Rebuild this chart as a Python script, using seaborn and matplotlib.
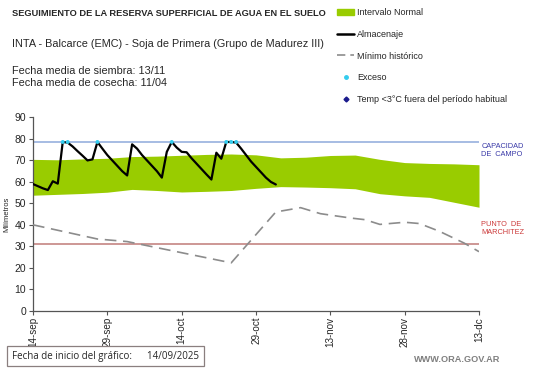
import matplotlib
matplotlib.use("Agg")
import matplotlib.pyplot as plt
import matplotlib.patches as mpatches
from matplotlib.lines import Line2D
import numpy as np
import pandas as pd
import seaborn as sns

# ---- data ----
start_date = "2025-09-14"

almacenaje = [
    59.0, 58.0, 57.0, 56.2, 60.3, 59.2, 78.6, 78.3, 76.5, 74.3,
    72.2, 70.0, 70.5, 78.6, 75.5, 72.5, 70.0, 67.5, 65.0, 63.0,
    77.5, 75.5, 72.5, 70.0, 67.5, 65.0, 62.0, 74.0, 78.6, 76.0,
    74.0, 73.8, 71.0, 68.5, 66.0, 63.5, 61.1, 73.6, 70.8, 78.6,
    78.6, 78.3, 75.5, 72.5, 69.5, 67.0, 64.5, 62.0, 60.0, 58.8,
]

exceso_days = [6, 7, 13, 28, 39, 40, 41]
exceso_vals = [78.6, 78.6, 78.6, 78.6, 78.6, 78.6, 78.6]

band_days = [0, 5, 10, 15, 20, 25, 30, 35, 40, 45, 50, 55, 60, 65, 70, 75, 80, 85, 90]
band_upper = [70.5, 70.3, 70.7, 71.0, 71.8, 72.0, 72.4, 72.8, 73.0, 72.6,
              71.2, 71.5, 72.3, 72.5, 70.5, 69.0, 68.6, 68.4, 68.0]
band_lower = [53.8, 54.2, 54.6, 55.2, 56.5, 56.0, 55.3, 55.6, 56.0, 57.0,
              57.8, 57.6, 57.3, 56.8, 54.5, 53.5, 52.8, 50.5, 48.2]

minimo_days = [0, 13, 19, 40, 49, 54, 58, 64, 67, 70, 75, 78, 82, 87, 90]
minimo_vals = [40.0, 33.4, 32.2, 22.3, 46.0, 48.0, 45.2, 43.2, 42.4, 40.2,
               41.2, 40.6, 37.0, 31.5, 27.5]

capacidad_campo = 78.5
punto_marchitez = 31.3

tick_days = [0, 15, 30, 45, 60, 75, 90]
tick_labels = ["14-sep", "29-sep", "14-oct", "29-oct", "13-nov", "28-nov", "13-dc"]

# ---- build frames ----
t0 = pd.Timestamp(start_date)
alm_df = pd.DataFrame({
    "fecha": t0 + pd.to_timedelta(np.arange(len(almacenaje)), unit="D"),
    "mm": almacenaje,
})
min_df = pd.DataFrame({"fecha": t0 + pd.to_timedelta(minimo_days, unit="D"), "mm": minimo_vals})
exc_df = pd.DataFrame({"fecha": t0 + pd.to_timedelta(exceso_days, unit="D"), "mm": exceso_vals})
band_dates = t0 + pd.to_timedelta(band_days, unit="D")

sns.set_style("white")
plt.rcParams["font.family"] = ["Liberation Sans", "DejaVu Sans"]

fig = plt.figure(figsize=(5.41, 3.68), dpi=100)
ax = fig.add_axes([33 / 541, 1 - 310.7 / 368, (479 - 33) / 541, (310.7 - 117.5) / 368])

green = "#99cc00"
ax.fill_between(band_dates, band_lower, band_upper, color=green, linewidth=0, zorder=1)
ax.axhline(capacidad_campo, color="#8eaadb", lw=1.1, zorder=2)
ax.axhline(punto_marchitez, color="#c07a78", lw=1.1, zorder=2)

sns.lineplot(data=min_df, x="fecha", y="mm", ax=ax, color="#8c8c8c", lw=1.2,
             dashes=False, zorder=3).lines[-1].set_dashes([7, 4])
sns.lineplot(data=alm_df, x="fecha", y="mm", ax=ax, color="black", lw=1.6, zorder=4)
sns.scatterplot(data=exc_df, x="fecha", y="mm", ax=ax, color="#33ccee", s=8,
                edgecolor="none", zorder=5)

ax.set_xlim(t0, t0 + pd.Timedelta(days=90))
ax.set_ylim(0, 90)
ax.set_yticks(range(0, 91, 10))
ax.set_xticks(t0 + pd.to_timedelta(tick_days, unit="D"))
ax.set_xticklabels(tick_labels, rotation=90, fontsize=7.1)
ax.tick_params(axis="y", labelsize=7.5, length=3, width=0.8, color="#555555", pad=2)
ax.tick_params(axis="x", length=3, width=0.8, color="#555555", pad=1.5)
ax.tick_params(direction="out", left=True, bottom=True)
for side in ["top", "right"]:
    ax.spines[side].set_visible(False)
for side in ["left", "bottom"]:
    ax.spines[side].set_color("#555555")
    ax.spines[side].set_linewidth(0.9)
ax.set_xlabel("")
ax.set_ylabel("Milímetros", fontsize=5.5, labelpad=3)

# right side labels
ax.text(1.005, capacidad_campo - 0.5, "CAPACIDAD\nDE  CAMPO", transform=ax.get_yaxis_transform(),
        fontsize=5.3, color="#3a3aa8", va="top", ha="left", linespacing=1.2)
ax.text(1.005, punto_marchitez + 10.5, "PUNTO  DE\nMARCHITEZ", transform=ax.get_yaxis_transform(),
        fontsize=5.3, color="#cc3a3a", va="top", ha="left", linespacing=1.2)

# header texts
fig.text(12 / 541, 1 - 14 / 368, "SEGUIMIENTO DE LA RESERVA SUPERFICIAL DE AGUA EN EL SUELO",
         fontsize=6.65, fontweight="bold", va="center")
fig.text(12 / 541, 1 - 44 / 368, "INTA - Balcarce (EMC) - Soja de Primera (Grupo de Madurez III)",
         fontsize=7.8, va="center")
fig.text(12 / 541, 1 - 71 / 368, "Fecha media de siembra: 13/11", fontsize=7.8, va="center")
fig.text(12 / 541, 1 - 83 / 368, "Fecha media de cosecha: 11/04", fontsize=7.8, va="center")

# legend
handles = [
    mpatches.Patch(color=green),
    Line2D([], [], color="black", lw=1.8),
    Line2D([], [], color="#8c8c8c", lw=1.2, dashes=[5, 3]),
    Line2D([], [], color="#33ccee", marker="o", ms=2.5, lw=0),
    Line2D([], [], color="#1a1a8c", marker="D", ms=2.5, lw=0),
]
labels = ["Intervalo Normal", "Almacenaje", "Mínimo histórico", "Exceso",
          "Temp <3°C fuera del período habitual"]
fig.legend(handles, labels, loc="upper left", bbox_to_anchor=(337 / 541, 1 - 8 / 368),
           frameon=False, fontsize=6.5, labelspacing=1.42, handlelength=1.9,
           handletextpad=0.3, borderaxespad=0, borderpad=0)

# footer
fig.text(12 / 541, 1 - 356 / 368, "Fecha de inicio del gráfico:      14/09/2025",
         fontsize=7, va="center", family=["Open Sans", "DejaVu Sans"],
         bbox=dict(boxstyle="square,pad=0.5", fc="white", ec="#8a7f7f", lw=0.9))
fig.text(500 / 541, 1 - 360 / 368, "WWW.ORA.GOV.AR", fontsize=6.6, color="#7f7f7f",
         ha="right", va="center", fontweight="bold")

fig.savefig("out.png", dpi=100)
